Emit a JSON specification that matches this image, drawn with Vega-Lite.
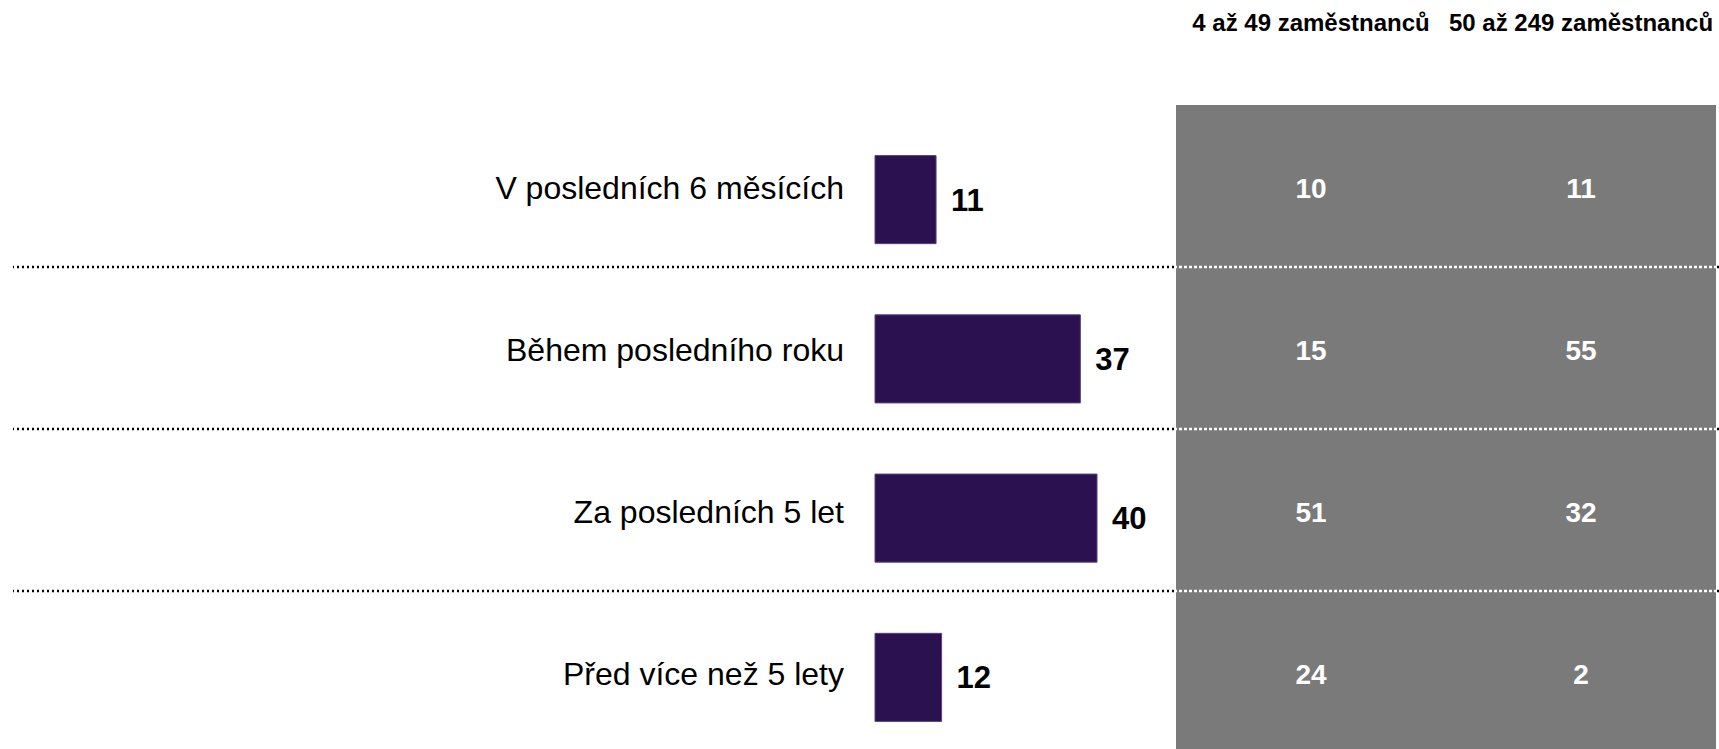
{
  "$schema": "https://vega.github.io/schema/vega-lite/v6.json",
  "width": 1706,
  "height": 644,
  "autosize": "none",
  "padding": {"left": 13, "top": 105, "right": 0, "bottom": 0},
  "background": "white",
  "config": {"view": {"stroke": null}, "font": "Liberation Sans"},
  "datasets": {
    "celkem": [
      {"kategorie": "V posledních 6 měsících", "podil": 11},
      {"kategorie": "Během posledního roku", "podil": 37},
      {"kategorie": "Za posledních 5 let", "podil": 40},
      {"kategorie": "Před více než 5 lety", "podil": 12}
    ],
    "skupiny": [
      {"kategorie": "V posledních 6 měsících", "skupina": "4 až 49 zaměstnanců", "podil": 10},
      {"kategorie": "V posledních 6 měsících", "skupina": "50 až 249 zaměstnanců", "podil": 11},
      {"kategorie": "Během posledního roku", "skupina": "4 až 49 zaměstnanců", "podil": 15},
      {"kategorie": "Během posledního roku", "skupina": "50 až 249 zaměstnanců", "podil": 55},
      {"kategorie": "Za posledních 5 let", "skupina": "4 až 49 zaměstnanců", "podil": 51},
      {"kategorie": "Za posledních 5 let", "skupina": "50 až 249 zaměstnanců", "podil": 32},
      {"kategorie": "Před více než 5 lety", "skupina": "4 až 49 zaměstnanců", "podil": 24},
      {"kategorie": "Před více než 5 lety", "skupina": "50 až 249 zaměstnanců", "podil": 2}
    ]
  },
  "layer": [
    {
      "data": {"name": "celkem"},
      "transform": [{"filter": {"field": "kategorie", "oneOf": ["V posledních 6 měsících", "Během posledního roku", "Za posledních 5 let"]}}],
      "mark": {"type": "rule", "color": "black", "strokeWidth": 2.4, "strokeDash": [2, 3]},
      "encoding": {
        "y": {"field": "kategorie", "type": "nominal", "bandPosition": 1, "axis": null,
              "scale": {"type": "band", "domain": ["V posledních 6 měsících", "Během posledního roku", "Za posledních 5 let", "Před více než 5 lety"], "range": [0, 648], "paddingInner": 0, "paddingOuter": 0}}
      }
    },
    {
      "data": {"name": "skupiny"},
      "encoding": {
        "x": {"field": "skupina", "type": "nominal", "sort": null, "title": null,
              "scale": {"type": "band", "domain": ["4 až 49 zaměstnanců", "50 až 249 zaměstnanců"], "range": [1163, 1703], "paddingInner": 0, "paddingOuter": 0},
              "axis": {"orient": "top", "domain": false, "ticks": false, "tickSize": 0, "grid": false, "labelPadding": 82, "labelBaseline": "middle", "labelFont": "Liberation Sans", "labelFontSize": 24, "labelFontWeight": "bold", "labelColor": "black", "labelLimit": 500, "labelOverlap": false, "labelAngle": 0}},
        "y": {"field": "kategorie", "type": "nominal", "axis": null,
              "scale": {"type": "band", "domain": ["V posledních 6 měsících", "Během posledního roku", "Za posledních 5 let", "Před více než 5 lety"], "range": [0, 648], "paddingInner": 0, "paddingOuter": 0}}
      },
      "layer": [
        {"mark": {"type": "rect", "fill": "#7a7a7a", "strokeWidth": 0}},
        {"mark": {"type": "text", "color": "white", "fontSize": 28, "fontWeight": "bold", "font": "Liberation Sans", "align": "center", "baseline": "middle", "dy": 4},
         "encoding": {"text": {"field": "podil", "type": "quantitative"}}}
      ]
    },
    {
      "data": {"name": "celkem"},
      "transform": [{"filter": {"field": "kategorie", "oneOf": ["V posledních 6 měsících", "Během posledního roku", "Za posledních 5 let"]}}],
      "mark": {"type": "rule", "color": "white", "strokeWidth": 2.4, "strokeDash": [3, 2], "strokeDashOffset": 3},
      "encoding": {
        "y": {"field": "kategorie", "type": "nominal", "bandPosition": 1, "axis": null,
              "scale": {"type": "band", "domain": ["V posledních 6 měsících", "Během posledního roku", "Za posledních 5 let", "Před více než 5 lety"], "range": [0, 648], "paddingInner": 0, "paddingOuter": 0}}
      }
    },
    {
      "data": {"name": "celkem"},
      "mark": {"type": "text", "color": "black", "fontSize": 32, "font": "Liberation Sans", "align": "right", "baseline": "middle", "dx": -31, "dy": 3},
      "encoding": {
        "x": {"datum": 0, "type": "quantitative", "axis": null, "scale": {"domain": [0, 40], "range": [862, 1084]}},
        "y": {"field": "kategorie", "type": "nominal", "axis": null,
              "scale": {"type": "band", "domain": ["V posledních 6 měsících", "Během posledního roku", "Za posledních 5 let", "Před více než 5 lety"], "range": [0, 648], "paddingInner": 0, "paddingOuter": 0}},
        "text": {"field": "kategorie", "type": "nominal"}
      }
    },
    {
      "data": {"name": "celkem"},
      "encoding": {
        "x": {"field": "podil", "type": "quantitative", "axis": null, "scale": {"domain": [0, 40], "range": [862, 1084], "zero": true}},
        "y": {"field": "kategorie", "type": "nominal", "axis": null,
              "scale": {"type": "band", "domain": ["V posledních 6 měsících", "Během posledního roku", "Za posledních 5 let", "Před více než 5 lety"], "range": [15, 652], "paddingInner": 0.447, "paddingOuter": 0.2235}}
      },
      "layer": [
        {"mark": {"type": "bar", "fill": "#2b1150", "stroke": "#55427f", "strokeWidth": 1}},
        {"mark": {"type": "text", "color": "black", "fontSize": 31, "fontWeight": "bold", "font": "Liberation Sans", "align": "left", "baseline": "middle", "dx": 15, "dy": 2},
         "encoding": {"text": {"field": "podil", "type": "quantitative"}}}
      ]
    }
  ],
  "resolve": {"scale": {"x": "independent", "y": "independent"}}
}
